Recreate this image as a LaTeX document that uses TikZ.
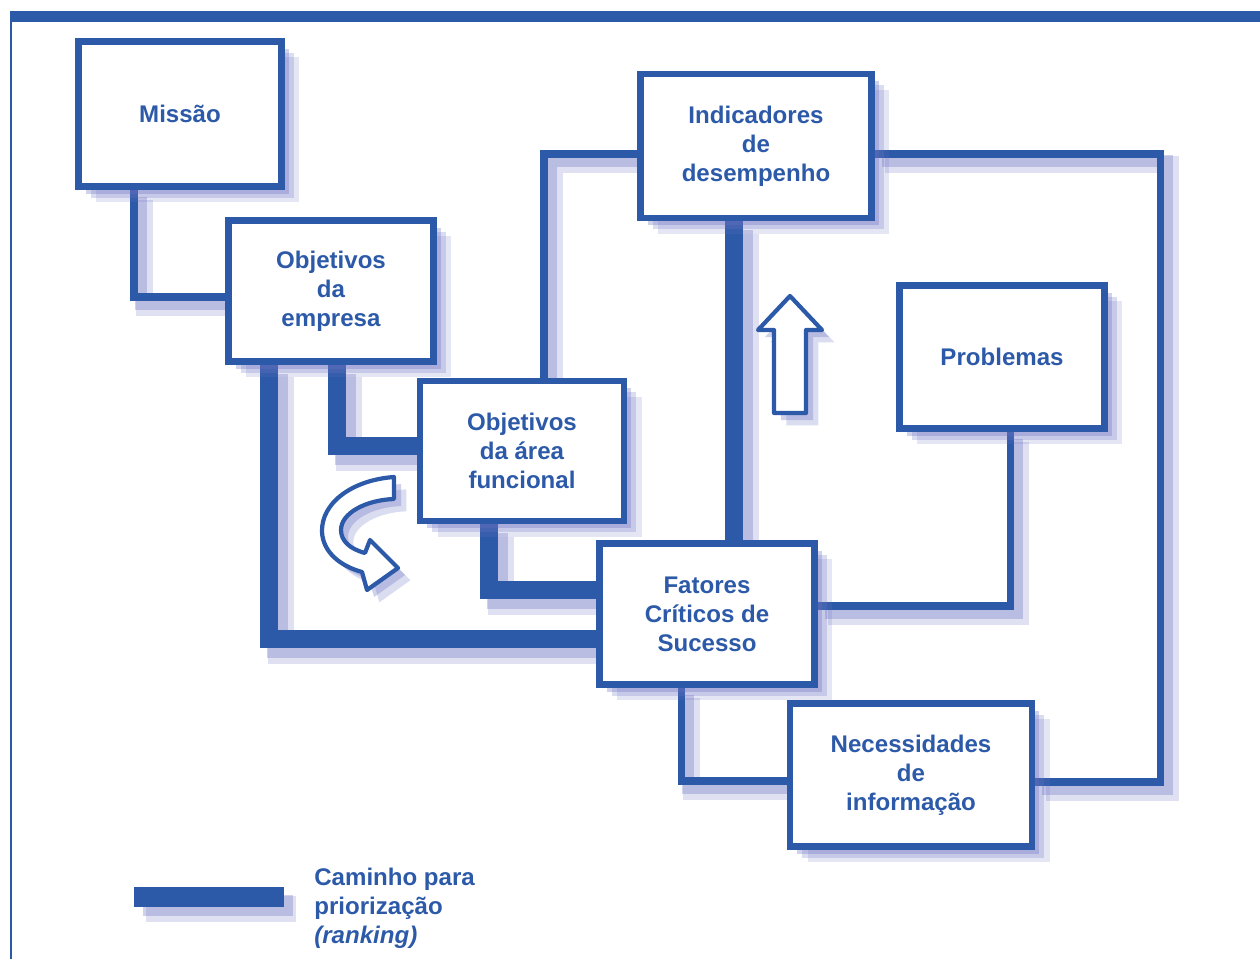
\documentclass[tikz,border=0pt]{standalone}
\usepackage{fontspec}
\setmainfont{Liberation Sans}
\usetikzlibrary{positioning, shadows, backgrounds}
\definecolor{boxblue}{RGB}{44,90,168}
\definecolor{shadeblue}{RGB}{108,114,194}
\tikzset{%
	stage box/.style={
		rectangle,
		draw=boxblue,
		line width=3.8pt,
		fill=white,
		text=boxblue,
		align=center,
		font=\fontsize{13.7}{16.6}\selectfont\bfseries,
		drop shadow={shadow xshift=10pt, shadow yshift=-9pt, fill=shadeblue, opacity=.18},
		drop shadow={shadow xshift=7pt, shadow yshift=-6.5pt, fill=shadeblue, opacity=.25},
		drop shadow={shadow xshift=4pt, shadow yshift=-4pt, fill=shadeblue, opacity=.32}
	},
	link/.style={
		draw=boxblue,
		line width=4pt,
		general shadow={shadow xshift=6pt, shadow yshift=-6pt, draw=shadeblue, draw opacity=.22, line width=10pt},
		general shadow={shadow xshift=4pt, shadow yshift=-4pt, draw=shadeblue, draw opacity=.32, line width=7pt}
	},
	rank link/.style={
		draw=boxblue,
		line width=10.5pt,
		general shadow={shadow xshift=7pt, shadow yshift=-7pt, draw=shadeblue, draw opacity=.22, line width=15pt},
		general shadow={shadow xshift=5pt, shadow yshift=-5pt, draw=shadeblue, draw opacity=.32, line width=12pt}
	},
	hollow arrow/.style={
		draw=boxblue,
		line width=2.4pt,
		fill=white,
		line join=round,
		drop shadow={shadow xshift=7pt, shadow yshift=-7pt, fill=shadeblue, opacity=.25},
		drop shadow={shadow xshift=4pt, shadow yshift=-4pt, fill=shadeblue, opacity=.32}
	},
}

\begin{document}
\begin{tikzpicture}[x=0.02cm, y=-0.02cm]
	\useasboundingbox (0,0) rectangle (1260,959);
	
	% Frame
	\fill[boxblue] (10,11) rectangle (1260,22);
	\draw[boxblue, line width=1pt] (11,22) -- (11,959);
	
	% Stages
	\node[stage box, minimum width=4.06cm, minimum height=2.90cm] (mis) at (180,114) {Missão};
	\node[stage box, minimum width=4.10cm, minimum height=2.82cm] (obe) at (331,291) {Objetivos\\da\\empresa};
	\node[stage box, minimum width=4.08cm, minimum height=2.80cm] (oaf) at (522,451) {Objetivos\\da área\\funcional};
	\node[stage box, minimum width=4.62cm, minimum height=2.88cm] (ind) at (756,146) {Indicadores\\de\\desempenho};
	\node[stage box, minimum width=4.10cm, minimum height=2.86cm] (pro) at (1002,357) {Problemas};
	\node[stage box, minimum width=4.30cm, minimum height=2.82cm] (fcs) at (707,614) {Fatores\\Críticos de\\Sucesso};
	\node[stage box, minimum width=4.84cm, minimum height=2.86cm] (nec) at (911,775) {Necessidades\\de\\informação};
	
	\begin{scope}[on background layer]
		% Links
		\draw[link] ([xshift=-0.92cm]mis.south) |- ([yshift=-0.12cm]obe.west);
		\draw[link] ([xshift=0.44cm]oaf.north) |- ([yshift=-0.16cm]ind.west);
		\draw[link] ([xshift=0.16cm]pro.south) |- ([yshift=0.16cm]fcs.east);
		\draw[link] ([xshift=-0.52cm]fcs.south) |- ([yshift=-0.12cm]nec.west);
		\coordinate (ri) at ([yshift=-0.16cm]ind.east);
		\coordinate (rn) at ([yshift=-0.14cm]nec.east);
		\coordinate (rx) at (1160,0);
		\draw[link] (ri) -- (ri -| rx) -- (rn -| rx) -- (rn);
		
		% Path for ranking
		\draw[rank link] ([xshift=-1.24cm]obe.south) |- ([yshift=-0.5cm]fcs.west);
		\draw[rank link] ([xshift=0.12cm]obe.south) |- ([yshift=0.1cm]oaf.west);
		\draw[rank link] ([xshift=-0.66cm]oaf.south) |- ([yshift=0.48cm]fcs.west);
		\coordinate (fu) at ([xshift=0.54cm]fcs.north);
		\draw[rank link] (fu) -- (fu |- ind.south);
	\end{scope}
	
	% Arrows
	\draw[hollow arrow] (790,296) -- (822,330) -- (806,330) -- (806,413) -- (774,413) -- (774,330) -- (758,330) -- cycle;
	\draw[hollow arrow] (394,477) .. controls (352,480) and (321,503) .. (322,532)
		.. controls (323,552) and (340,566) .. (362,572) -- (367,590) -- (398,568) -- (370,540) -- (365,553)
		.. controls (350,549) and (341,541) .. (341,530) .. controls (341,513) and (366,500) .. (394,499) -- cycle;
	
	% Legend
	\coordinate (ka) at (134,897);
	\coordinate (kb) at (284,897);
	\draw[rank link, line width=11pt] (ka) -- (kb);
	\node[text=boxblue, font=\fontsize{13.7}{16.6}\selectfont\bfseries, anchor=west, align=left, inner sep=0pt] (legend) at (314,908) {Caminho para\\priorização\\\textit{(ranking)}};
\end{tikzpicture}
\end{document}
